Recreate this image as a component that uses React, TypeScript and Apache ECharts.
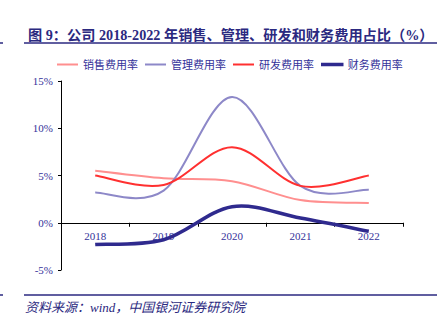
import React, { useEffect, useRef } from "react";
import * as echarts from "echarts";

const years = ["2018", "2019", "2020", "2021", "2022"];
const salesRate = [5.5, 4.7, 4.4, 2.4, 2.1];
const mgmtRate = [3.2, 3.4, 13.3, 3.9, 3.5];
const rdRate = [5.0, 4.0, 8.0, 3.9, 5.0];
const finRate = [-2.3, -1.8, 1.7, 0.5, -0.9];
const yTicks = [-5, 0, 5, 10, 15];

const FONT = "'Liberation Serif', 'Noto Sans CJK SC', serif";
const NAVY = "#2B2980";
const LABEL = "#34329A";

function smoothPath(pts: number[][]): string {
  const n = pts.length;
  const P = (i: number) => pts[Math.max(0, Math.min(n - 1, i))];
  let d = `M${pts[0][0]},${pts[0][1]}`;
  for (let i = 0; i < n - 1; i++) {
    const p0 = P(i - 1), p1 = P(i), p2 = P(i + 1), p3 = P(i + 2);
    const c1x = p1[0] + (p2[0] - p0[0]) / 6;
    const c1y = p1[1] + (p2[1] - p0[1]) / 6;
    const c2x = p2[0] - (p3[0] - p1[0]) / 6;
    const c2y = p2[1] - (p3[1] - p1[1]) / 6;
    d += ` C${c1x},${c1y} ${c2x},${c2y} ${p2[0]},${p2[1]}`;
  }
  return d;
}

export default function App() {
  const ref = useRef<HTMLDivElement>(null);
  useEffect(() => {
    if (!ref.current) return;
    const chart = echarts.init(ref.current, undefined, { renderer: "svg" });
    const mk = (name: string, vals: number[], color: string, width: number) => ({
      name,
      type: "custom",
      xAxisIndex: 0,
      data: vals.map((v, i) => [i, v]),
      encode: { x: 0, y: 1 },
      itemStyle: { color },
      renderItem: (params: any, api: any) => {
        if (params.dataIndex !== 0) return { type: "group", children: [] };
        const pts = vals.map((v, i) => api.coord([i, v]));
        return {
          type: "path",
          shape: { pathData: smoothPath(pts) },
          style: { stroke: color, lineWidth: width, fill: "none" },
        };
      },
    });
    chart.setOption({
      animation: false,
      backgroundColor: "#ffffff",
      title: {
        text: "图 9：公司 2018-2022 年销售、管理、研发和财务费用占比（%）",
        left: 23,
        top: 23,
        textStyle: { fontSize: 14.2, fontWeight: "bold", color: NAVY, fontFamily: FONT },
      },
      graphic: [
        { type: "line", shape: { x1: 24, y1: 43, x2: 437, y2: 43 }, style: { stroke: NAVY, lineWidth: 1.5 } },
        { type: "line", shape: { x1: 0, y1: 43, x2: 3, y2: 43 }, style: { stroke: NAVY, lineWidth: 1.5 } },
        { type: "line", shape: { x1: 24, y1: 295, x2: 437, y2: 295 }, style: { stroke: NAVY, lineWidth: 1.5 } },
        { type: "line", shape: { x1: 0, y1: 295, x2: 3, y2: 295 }, style: { stroke: NAVY, lineWidth: 1.5 } },
        {
          type: "text",
          left: 25,
          top: 301,
          style: {
            text: "资料来源：wind，中国银河证券研究院",
            fill: NAVY,
            fontSize: 13,
            fontStyle: "italic",
            fontFamily: FONT,
          },
        },
      ],
      legend: {
        left: 52,
        top: 54,
        icon: "rect",
        itemWidth: 21,
        itemHeight: 2,
        itemGap: 7,
        textStyle: { fontSize: 11, color: LABEL, fontFamily: FONT },
        data: [
          { name: "销售费用率" },
          { name: "管理费用率" },
          { name: "研发费用率" },
          { name: "财务费用率", itemStyle: { borderColor: "#2F2A8E", borderWidth: 1.5 } },
        ],
      },
      grid: { left: 61, right: 42, top: 81, bottom: 64, containLabel: false },
      xAxis: [
        {
          type: "category",
          data: years,
          boundaryGap: true,
          axisLine: { onZero: true, lineStyle: { color: "#000", width: 1 } },
          axisTick: { show: true, length: 4, lineStyle: { color: "#000" } },
          axisLabel: { show: false },
        },
        {
          type: "category",
          data: years,
          boundaryGap: true,
          position: "bottom",
          offset: -47,
          axisLine: { show: false, onZero: false },
          axisTick: { show: false },
          axisLabel: { fontSize: 11, color: LABEL, fontFamily: FONT, margin: 7 },
        },
      ],
      yAxis: {
        type: "value",
        min: yTicks[0],
        max: yTicks[yTicks.length - 1],
        interval: 5,
        splitLine: { show: false },
        axisLine: { show: true, lineStyle: { color: "#000", width: 1 } },
        axisTick: { show: true, length: 3, lineStyle: { color: "#000" } },
        axisLabel: {
          fontSize: 11,
          color: LABEL,
          fontFamily: FONT,
          margin: 8,
          formatter: (v: number) => `${v}%`,
        },
      },
      series: [
        mk("销售费用率", salesRate, "#FF8F8F", 2),
        mk("管理费用率", mgmtRate, "#8D88C8", 2),
        mk("研发费用率", rdRate, "#FF3030", 2),
        mk("财务费用率", finRate, "#2F2A8E", 3.5),
      ],
    });
    return () => chart.dispose();
  }, []);
  return <div ref={ref} style={{ width: 445, height: 334, position: "absolute", left: 0, top: 0 }} />;
}
